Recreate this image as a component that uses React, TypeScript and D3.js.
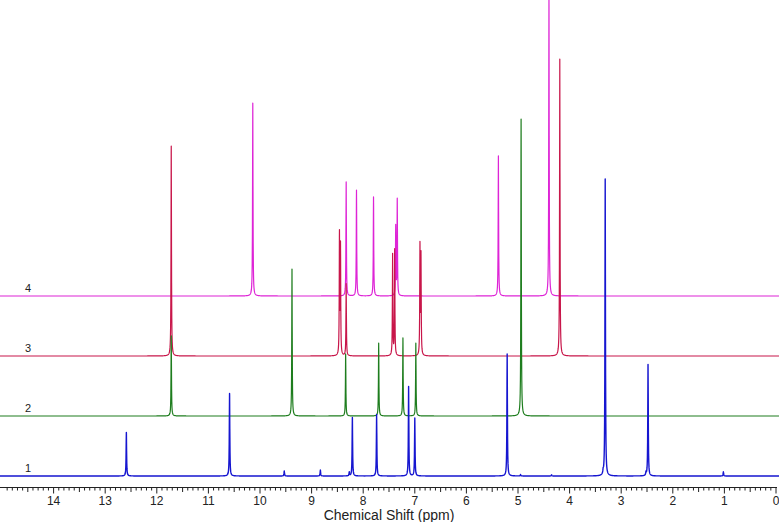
import React, { useEffect, useRef } from "react";
import * as d3 from "d3";

// peak lists (ppm, relative intensity 0-100)
const spectrumLabels = ["1", "2", "3", "4"];
const spectrumColors = ["#1616d0", "#1e7d1e", "#c8164a", "#de24d6"];

const ppm1 = [12.59, 10.59, 9.53, 8.83, 8.27, 8.21, 7.74, 7.12, 7.0, 5.21, 4.95, 4.35, 3.35, 3.31, 2.52, 2.48, 1.02];
const int1 = [14.5, 27.5, 1.7, 2.0, 1.3, 19.5, 20.5, 29.8, 19.3, 40.7, 0.5, 0.4, 1.0, 99, 1.0, 37.2, 1.4];

const ppm2 = [11.72, 9.38, 8.34, 7.7, 7.23, 6.98, 4.94];
const int2 = [26.7, 49, 20.7, 24.3, 26, 24.3, 99];

const ppm3 = [11.72, 8.46, 8.44, 8.33, 7.43, 7.39, 6.9, 6.88, 4.19];
const int3 = [70, 40, 36, 24, 33.7, 35.3, 36.3, 33, 99];

const ppm4 = [10.14, 8.33, 8.13, 7.8, 7.37, 7.34, 5.38, 4.4];
const int4 = [64.3, 38, 35.3, 33, 23, 32, 46.7, 99.5];

const peakPpm = [ppm1, ppm2, ppm3, ppm4];
const peakInt = [int1, int2, int3, int4];

const majorTicks = d3.range(0, 15, 1);

const App = () => {
  const chartRef = useRef(null);

  useEffect(() => {
    const width = 779;
    const height = 522;
    const svg = d3.select(chartRef.current).attr("width", width).attr("height", height);
    svg.selectAll("*").remove();

    const x = d3.scaleLinear().domain([0, 15]).range([776, 2]);
    // intensity -> pixels; each spectrum sits 20 units above the previous one
    const y = d3.scaleLinear().domain([0, 100]).range([476, 176]);
    const stackStep = 20;

    // lorentzian line shape, half width in ppm
    const lorentz = (p, ppms, ints, g) =>
      ppms.reduce((s, c, i) => s + (ints[i] * g * g) / ((p - c) * (p - c) + g * g), 0);

    const order = [3, 2, 1, 0]; // blue drawn on top
    order.forEach((k) => {
      const ppms = peakPpm[k];
      const ints = peakInt[k];
      const g = k === 0 ? 0.0055 : 0.005;
      let pts = d3.range(0, width + 0.01, 0.2).map((px) => x.invert(px));
      pts = pts.concat(ppms).sort((a, b) => b - a);
      const base = k * stackStep;
      const line = d3
        .line()
        .x((p) => x(p))
        .y((p) => y(base + lorentz(p, ppms, ints, g)));
      svg
        .append("path")
        .attr("d", line(pts))
        .attr("fill", "none")
        .attr("stroke", spectrumColors[k])
        .attr("stroke-width", k === 0 ? 1.4 : 1.2)
        .attr("stroke-linejoin", "round");

      svg
        .append("text")
        .attr("x", 28)
        .attr("y", y(base) - 4)
        .attr("text-anchor", "middle")
        .attr("font-family", "Arial, 'Liberation Sans', sans-serif")
        .attr("font-size", 11)
        .attr("fill", "#222")
        .text(spectrumLabels[k]);
    });

    const axisY = 487.5;
    const gAxis = svg.append("g").attr("transform", `translate(0,${axisY})`);
    gAxis
      .append("line")
      .attr("x1", 0)
      .attr("x2", 777)
      .attr("stroke", "#222")
      .attr("stroke-width", 1);

    const minor = d3.range(0, 150).map((i) => i / 10);
    gAxis
      .selectAll(".minor")
      .data(minor)
      .enter()
      .append("line")
      .attr("x1", (d) => x(d))
      .attr("x2", (d) => x(d))
      .attr("y1", 0)
      .attr("y2", (d, i) => (i % 10 === 0 ? 6 : i % 5 === 0 ? 4.5 : 3))
      .attr("stroke", "#222")
      .attr("stroke-width", 1);

    gAxis
      .selectAll(".tick-label")
      .data(majorTicks)
      .enter()
      .append("text")
      .attr("x", (d) => x(d))
      .attr("y", 17)
      .attr("text-anchor", "middle")
      .attr("font-family", "Arial, 'Liberation Sans', sans-serif")
      .attr("font-size", 12)
      .attr("fill", "#222")
      .text((d) => d);

    svg
      .append("text")
      .attr("x", 389)
      .attr("y", 520)
      .attr("text-anchor", "middle")
      .attr("font-family", "Arial, 'Liberation Sans', sans-serif")
      .attr("font-size", 14)
      .attr("fill", "#222")
      .text("Chemical Shift (ppm)");
  }, []);

  return (
    <svg
      ref={chartRef}
      style={{ position: "absolute", left: 0, top: 0, display: "block", background: "#fff" }}
    />
  );
};

export default App;
